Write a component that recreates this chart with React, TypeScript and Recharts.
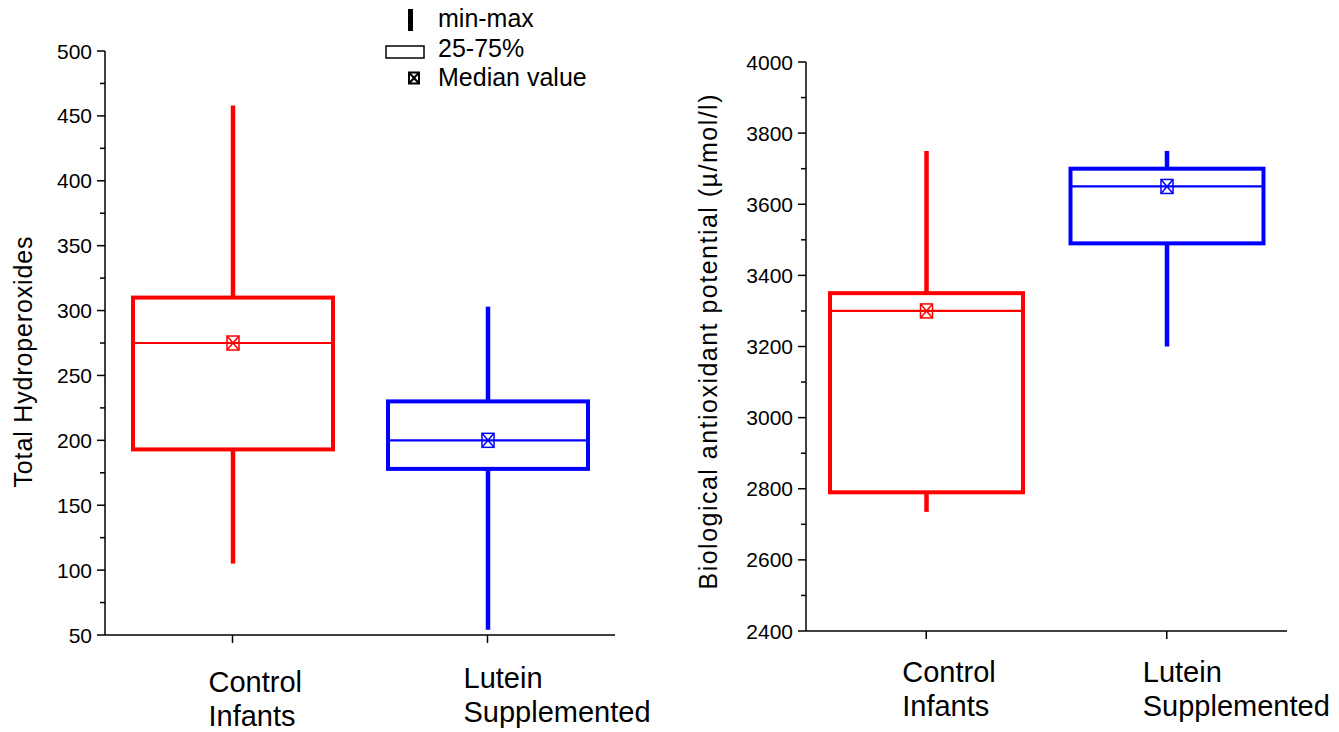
import { ComposedChart, Bar, XAxis, YAxis } from 'recharts'

const groups = ['Control Infants', 'Lutein Supplemented']
const COLORS = ['#ff0000', '#0000ff']

// Total hydroperoxides
const hpMin = [105, 54]
const hpQ1 = [193, 178]
const hpMedian = [275, 200]
const hpQ3 = [310, 230]
const hpMax = [458, 303]
const hpTicks = [50, 75, 100, 125, 150, 175, 200, 225, 250, 275, 300, 325, 350, 375, 400, 425, 450, 475, 500]

// Biological antioxidant potential
const bapMin = [2735, 3200]
const bapQ1 = [2790, 3490]
const bapMedian = [3300, 3650]
const bapQ3 = [3350, 3700]
const bapMax = [3750, 3750]
const bapTicks = [2400, 2500, 2600, 2700, 2800, 2900, 3000, 3100, 3200, 3300, 3400, 3500, 3600, 3700, 3800, 3900, 4000]

const FONT = '"Liberation Sans", Arial, sans-serif'
const Y_WIDTH = 90

type Row = { name: string; min: number; q1: number; median: number; q3: number; max: number }

const build = (mn: number[], q1: number[], md: number[], q3: number[], mx: number[]): Row[] =>
  groups.map((g, i) => ({ name: g, min: mn[i], q1: q1[i], median: md[i], q3: q3[i], max: mx[i] }))

const hpData = build(hpMin, hpQ1, hpMedian, hpQ3, hpMax)
const bapData = build(bapMin, bapQ1, bapMedian, bapQ3, bapMax)

const MedianMark = ({ cx, cy, color, w = 12, h = 14, sw = 1.5 }: any) => (
  <g stroke={color} strokeWidth={sw} fill="none">
    <rect x={cx - w / 2} y={cy - h / 2} width={w} height={h} />
    <line x1={cx - w / 2} y1={cy - h / 2} x2={cx + w / 2} y2={cy + h / 2} />
    <line x1={cx + w / 2} y1={cy - h / 2} x2={cx - w / 2} y2={cy + h / 2} />
  </g>
)

const BoxShape = (props: any) => {
  const { x, y, width, height, payload, index } = props
  const top = Math.min(y, y + height)
  const h = Math.abs(height)
  const k = h / (payload.max - payload.min)
  const py = (v: number) => top + (payload.max - v) * k
  const cx = x + width / 2
  const color = COLORS[index]
  return (
    <g>
      <line x1={cx} x2={cx} y1={py(payload.max)} y2={py(payload.q3)} stroke={color} strokeWidth={4.5} />
      <line x1={cx} x2={cx} y1={py(payload.q1)} y2={py(payload.min)} stroke={color} strokeWidth={4.5} />
      <rect x={x} y={py(payload.q3)} width={width} height={py(payload.q1) - py(payload.q3)}
        fill="none" stroke={color} strokeWidth={4} />
      <line x1={x} x2={x + width} y1={py(payload.median)} y2={py(payload.median)} stroke={color} strokeWidth={2.2} />
      <MedianMark cx={cx} cy={py(payload.median)} color={color} />
    </g>
  )
}

type ChartProps = {
  data: Row[]
  domain: [number, number]
  ticks: number[]
  majorStep: number
  title: string
  titleX: number
  titleY: number
  titleLen: number
  left: number
  width: number
  margin: { top: number; right: number; left: number; bottom: number }
  xHeight: number
  barSize: number
  labelDy: number[]
}

const BoxChart = ({ data, domain, ticks, majorStep, title, titleX, titleY, titleLen, left, width, margin, xHeight, barSize, labelDy }: ChartProps) => {
  const height = 732
  const axisX = margin.left + Y_WIDTH
  const axisY = height - margin.bottom - xHeight

  const YTick = ({ y, payload }: any) => {
    const major = (payload.value - domain[0]) % majorStep === 0
    return (
      <g>
        <line x1={axisX} x2={axisX - (major ? 8 : 5)} y1={y} y2={y} stroke="#000" strokeWidth={1.5} />
        {major && (
          <text x={axisX - 13} y={y} textAnchor="end" dominantBaseline="central"
            fontSize={21} fontFamily={FONT} fill="#000">{payload.value}</text>
        )}
      </g>
    )
  }

  const XTick = ({ x, payload, index }: any) => {
    const lines = String(payload.value).split(' ')
    return (
      <g>
        <line x1={x} x2={x} y1={axisY} y2={axisY + 8} stroke="#000" strokeWidth={1.5} />
        <text x={x - 24} y={axisY + labelDy[index]} fontSize={29} fontFamily={FONT} fill="#000">
          {lines.map((l, i) => (
            <tspan key={i} x={x - 24} dy={i === 0 ? 0 : 34}>{l}</tspan>
          ))}
        </text>
      </g>
    )
  }

  return (
    <div style={{ position: 'absolute', left, top: 0 }}>
      <ComposedChart width={width} height={height} data={data} margin={margin}>
        <XAxis dataKey="name" type="category" height={xHeight} axisLine={{ stroke: '#000', strokeWidth: 1.5 }}
          tickLine={false} tick={XTick} interval={0} />
        <YAxis type="number" domain={domain} ticks={ticks} width={Y_WIDTH} allowDataOverflow
          axisLine={{ stroke: '#000', strokeWidth: 1.5 }} tickLine={false} tick={YTick} interval={0} />
        <Bar dataKey={(d: Row) => [d.min, d.max]} barSize={barSize} shape={BoxShape} isAnimationActive={false} />
      </ComposedChart>
      <svg width={width} height={height} style={{ position: 'absolute', left: 0, top: 0, pointerEvents: 'none' }}>
        <text x={titleX} y={titleY} transform={`rotate(-90, ${titleX}, ${titleY})`} textAnchor="middle"
          dominantBaseline="central" fontSize={25} fontFamily={FONT} fill="#000"
          textLength={titleLen} lengthAdjust="spacing">{title}</text>
      </svg>
    </div>
  )
}

const Legend = () => (
  <svg width={660} height={100} style={{ position: 'absolute', left: 0, top: 0 }}>
    <rect x={408} y={9} width={5} height={22} fill="#000" />
    <rect x={386} y={46} width={38} height={12} fill="#fff" stroke="#000" strokeWidth={1.5} />
    <MedianMark cx={414} cy={78} color="#000" w={10} h={11} sw={2} />
    <g fontSize={25} fontFamily={FONT} fill="#000">
      <text x={438} y={27}>min-max</text>
      <text x={438} y={57}>25-75%</text>
      <text x={438} y={86}>Median value</text>
    </g>
  </svg>
)

export default function App() {
  return (
    <div style={{ position: 'absolute', left: 0, top: 0, width: 1339, height: 732, background: '#fff', overflow: 'hidden' }}>
      <BoxChart data={hpData} domain={[50, 500]} ticks={hpTicks} majorStep={50} title="Total Hydroperoxides"
        titleX={23} titleY={362} titleLen={251} left={0} width={660}
        margin={{ top: 51, right: 45, left: 15, bottom: 0 }} xHeight={97} barSize={200} labelDy={[57, 53]} />
      <BoxChart data={bapData} domain={[2400, 4000]} ticks={bapTicks} majorStep={200}
        title="Biological antioxidant potential (µ/mol/l)"
        titleX={28} titleY={342} titleLen={495} left={680} width={659}
        margin={{ top: 62, right: 52, left: 36, bottom: 0 }} xHeight={101} barSize={193} labelDy={[51, 51]} />
      <Legend />
    </div>
  )
}
